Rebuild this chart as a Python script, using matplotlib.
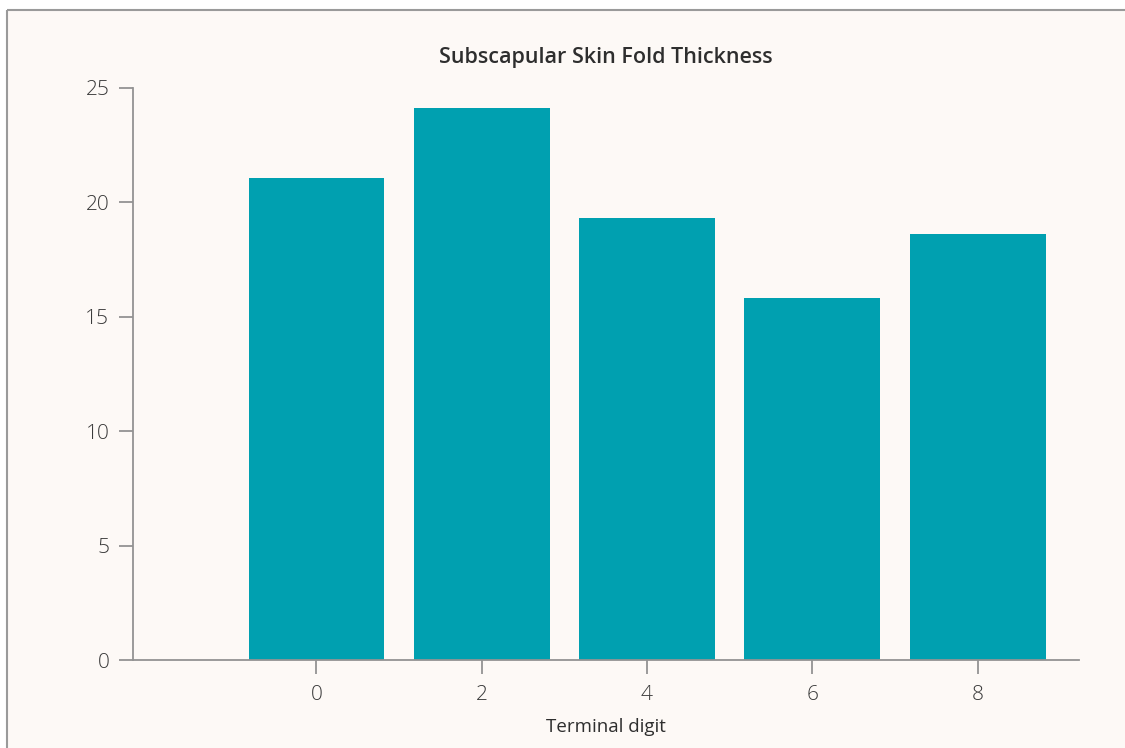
import matplotlib
matplotlib.use("Agg")
import matplotlib.pyplot as plt
from matplotlib.patches import Rectangle
from matplotlib.lines import Line2D

# Mean subscapular skin fold thickness by terminal digit
digits = [0, 2, 4, 6, 8]
thickness = [21.06, 24.14, 19.33, 15.83, 18.63]
yticks = [0, 5, 10, 15, 20, 25]

BG = "#fdf9f6"
BAR = "#00a0b0"
AXIS = "#939393"
TEXT = "#2e2e2e"

plt.rcParams['font.family'] = ['Open Sans', 'DejaVu Sans']

W, H = 1125, 748
fig = plt.figure(figsize=(W / 100, H / 100), dpi=100, facecolor='white')

# cream panel with grey frame on left and top only (cut off at right/bottom)
x0, y1 = 6.5 / W, 1 - 9.5 / H
fig.add_artist(Rectangle((x0, 0), 1 - x0, y1, transform=fig.transFigure,
                         facecolor=BG, edgecolor='none', zorder=0))
fig.add_artist(Line2D([x0, x0], [0, y1], transform=fig.transFigure,
                      color='#9a9a9a', lw=1.5, solid_capstyle='butt'))
fig.add_artist(Line2D([x0, 1], [y1, y1], transform=fig.transFigure,
                      color='#9a9a9a', lw=1.5, solid_capstyle='butt'))

ax = fig.add_axes([0.1182, 0.1176, 0.8412, 0.7648])
ax.set_facecolor('none')

ax.bar(digits, thickness, width=1.643, color=BAR, zorder=2)

ax.set_xlim(-2.22, 9.23)
ax.set_ylim(0, 25)
ax.set_xticks(digits)
ax.set_yticks(yticks)

for side in ['top', 'right']:
    ax.spines[side].set_visible(False)
for side in ['left', 'bottom']:
    ax.spines[side].set_color(AXIS)
    ax.spines[side].set_linewidth(1.3)

ax.tick_params(axis='both', colors=AXIS, length=10, width=1.3, labelsize=15,
               labelcolor='#3a3a3a')
for lbl in ax.get_xticklabels() + ax.get_yticklabels():
    lbl.set_fontweight('light')
ax.tick_params(axis='y', pad=7)
ax.tick_params(axis='x', pad=8)

ax.set_title('Subscapular Skin Fold Thickness', fontsize=15.5, color=TEXT,
             fontweight='semibold', pad=18)
ax.set_xlabel('Terminal digit', fontsize=13.5, color=TEXT, labelpad=9)

fig.savefig('out.png', dpi=100, facecolor='white')
